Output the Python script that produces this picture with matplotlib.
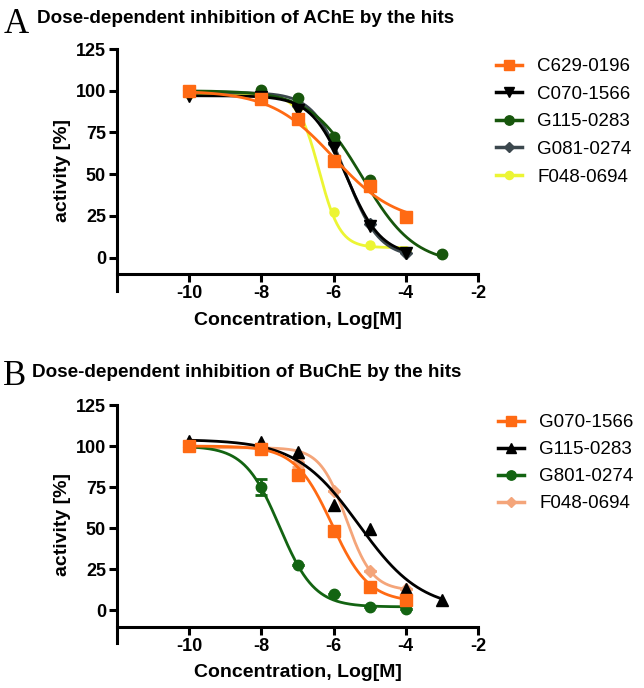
import numpy as np
import matplotlib.pyplot as plt
from matplotlib.lines import Line2D

plt.rcParams['font.family'] = ['Liberation Sans', 'DejaVu Sans']
plt.rcParams['axes.unicode_minus'] = False

# PANEL A DATA (AChE)
names_a = ['C629-0196', 'C070-1566', 'G115-0283', 'G081-0274', 'F048-0694']
x_a = [-10, -8, -7, -6, -5, -4]
x_a_g115 = [-10, -8, -7, -6, -5, -3]
c629_a = [100, 94.8, 83.3, 57.7, 42.9, 24.2]
c070_a = [97, 96, 88.7, 65.7, 18.8, 3]
g115_a = [99, 100.4, 95.4, 72.2, 46.8, 2]
g081_a = [99, 98, 91, 68, 20, 3]
f048_a = [98, 96, 90, 27.4, 7.7, 4]
# fit parameters: top, bottom, logIC50, hill slope
fit_a = [[100, 20, -6.0, 0.5],
         [97, 1, -5.65, 0.9],
         [100, -4, -5.2, 0.6],
         [99, 0, -5.65, 0.95],
         [98, 6, -6.4, 1.5]]

# PANEL B DATA (BuChE)
names_b = ['G070-1566', 'G115-0283', 'G801-0274', 'F048-0694']
x_b = [-10, -8, -7, -6, -5, -4]
x_b_g115 = [-10, -8, -7, -6, -5, -4, -3]
g070_b = [100, 98, 82.3, 48.1, 14.1, 6.4]
g115_b = [103, 102.6, 96.4, 63.8, 49.7, 12.9, 6.5]
g801_b = [100, 75.2, 27.4, 10.1, 1.8, 1]
g801_err = [0, 5, 0, 0, 0, 0]
f048_b = [100, 98, 90, 72.8, 23.6, 13.1]
f048_err = [0, 0, 3, 0, 0, 0]
fit_b = [[100, 5, -6.05, 0.85],
         [104, 0, -5.3, 0.5],
         [100, 2, -7.5, 0.9],
         [99, 12, -5.65, 1.2]]


def logistic(x, top, bottom, logic50, hill):
    return bottom + (top - bottom) / (1 + 10 ** ((x - logic50) * hill))


def style(ax):
    ax.set_xlim(-12, -2)
    ax.set_ylim(-20, 125)
    ax.spines['top'].set_visible(False)
    ax.spines['right'].set_visible(False)
    ax.spines['bottom'].set_position(('data', -10))
    ax.spines['left'].set_linewidth(2.2)
    ax.spines['bottom'].set_linewidth(2.2)
    ax.set_xticks([-10, -8, -6, -4, -2])
    ax.set_yticks([0, 25, 50, 75, 100, 125])
    ax.tick_params(direction='out', length=6, width=2.2, labelsize=13, pad=2)
    for lab in ax.get_xticklabels() + ax.get_yticklabels():
        lab.set_fontweight('bold')
    ax.set_xlabel('Concentration, Log[M]', fontsize=14, fontweight='bold', labelpad=7)
    ax.set_ylabel('activity [%]', fontsize=14, fontweight='bold', labelpad=3)


fig = plt.figure(figsize=(6.44, 6.88), dpi=100)
axA = fig.add_axes([117/644, 1-291/688, 361/644, 242/688])
axB = fig.add_axes([117/644, 1-643/688, 361/644, 238/688])

# PANEL A
series_a = [(x_a, c629_a, '#FF6A13', 's', 8.5),
            (x_a, c070_a, '#000000', 'v', 8),
            (x_a_g115, g115_a, '#17560C', 'o', 7.5),
            (x_a, g081_a, '#3B474D', 'D', 6),
            (x_a, f048_a, '#ECF534', 'o', 6.5)]
handles = []
for i, (xs, ys, col, mk, ms) in enumerate(series_a):
    z = 10 - i
    xx = np.linspace(min(xs), max(xs), 300)
    axA.plot(xx, logistic(xx, *fit_a[i]), color=col, lw=2, zorder=z)
    axA.plot(xs, ys, ls='none', marker=mk, color=col, ms=ms, zorder=z)
    handles.append(Line2D([], [], color=col, lw=2.5, marker=mk, ms=ms * 0.9))
style(axA)
fig.legend(handles, names_a, loc='upper left', bbox_to_anchor=(496/644, 1-58/688),
           frameon=False, fontsize=13.5, handlelength=1.4, handletextpad=0.8,
           labelspacing=0.56, borderaxespad=0, borderpad=0)

# PANEL B
series_b = [(x_b, g070_b, None, '#FF6A13', 's', 8.5),
            (x_b_g115, g115_b, None, '#000000', '^', 8),
            (x_b, g801_b, g801_err, '#136412', 'o', 7.5),
            (x_b, f048_b, f048_err, '#F4A57A', 'D', 6)]
handles = []
for i, (xs, ys, err, col, mk, ms) in enumerate(series_b):
    z = 10 - i
    xx = np.linspace(min(xs), max(xs), 300)
    axB.plot(xx, logistic(xx, *fit_b[i]), color=col, lw=2, zorder=z)
    if err is not None:
        axB.errorbar(xs, ys, yerr=err, ls='none', marker=mk, color=col, ms=ms,
                     capsize=4, elinewidth=2, capthick=2, zorder=z)
    else:
        axB.plot(xs, ys, ls='none', marker=mk, color=col, ms=ms, zorder=z)
    handles.append(Line2D([], [], color=col, lw=2.5, marker=mk, ms=ms * 0.9))
style(axB)
fig.legend(handles, names_b, loc='upper left', bbox_to_anchor=(498/644, 1-414/688),
           frameon=False, fontsize=13.5, handlelength=1.4, handletextpad=0.8,
           labelspacing=0.53, borderaxespad=0, borderpad=0)

# TITLES
fig.text(4/644, 1-33/688, 'A', family='Liberation Serif', fontsize=25, va='baseline')
fig.text(37/644, 1-23/688, 'Dose-dependent inhibition of AChE by the hits',
         fontweight='bold', fontsize=13.6, va='baseline')
fig.text(3/644, 1-385/688, 'B', family='Liberation Serif', fontsize=25, va='baseline')
fig.text(32/644, 1-377/688, 'Dose-dependent inhibition of BuChE by the hits',
         fontweight='bold', fontsize=13.6, va='baseline')

fig.savefig('out.png', dpi=100)
